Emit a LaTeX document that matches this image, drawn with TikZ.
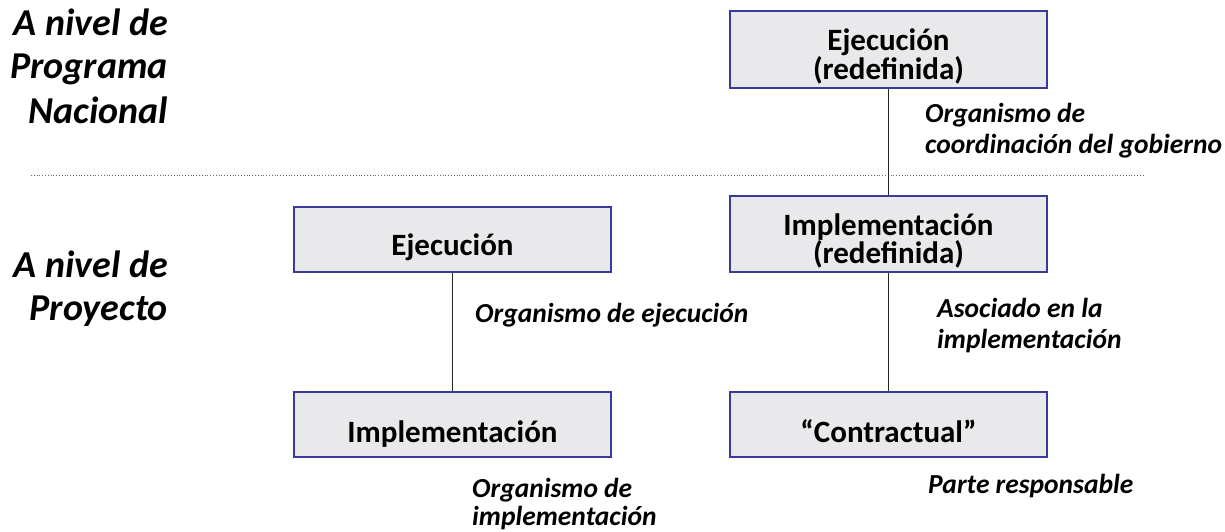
\documentclass[tikz,border=0pt]{standalone}
\usepackage{fontspec}
\setmainfont{Carlito}
\definecolor{boxfill}{HTML}{E9E9EC}
\definecolor{boxedge}{HTML}{3A3A9A}
\begin{document}
\begin{tikzpicture}[x=1pt,y=-1pt,
  box/.style={draw=boxedge,fill=boxfill,line width=1.6pt,minimum width=317pt,minimum height=65pt,inner sep=0pt},
  boxtext/.style={font=\fontsize{31}{33}\selectfont\bfseries,anchor=base,inner sep=0pt},
  lbl/.style={font=\fontsize{27.5}{31}\selectfont\bfseries\itshape,anchor=base west,inner sep=0pt},
  level/.style={font=\fontsize{38}{43}\selectfont\bfseries\itshape,anchor=base east,inner sep=0pt},
  conn/.style={line width=1.5pt,draw=black!85}]
\useasboundingbox (0,0) rectangle (1225,531);
% separator
\draw[dotted,line width=0.8pt,black!60] (31,175) -- (1145,175);
% boxes
\node[box,minimum height=77pt] (ejr) at (888.5,49.5) {};
\node[box,minimum height=76pt] (impr) at (888.5,234) {};
\node[box] (con) at (888.5,424.5) {};
\node[box] (ej) at (452.5,239.5) {};
\node[box] (imp) at (452.5,424.5) {};
% connectors
\draw[conn] (ejr.south) -- (impr.north);
\draw[conn] (impr.south) -- (con.north);
\draw[conn] (ej.south) -- (imp.north);
% box texts
\node[boxtext] (t1a) at (888.5,50) {Ejecución};
\node[boxtext] (t1b) at (888.5,79) {(redefinida)};
\node[boxtext] (t2a) at (888.5,235) {Implementación};
\node[boxtext] (t2b) at (888.5,263) {(redefinida)};
\node[boxtext] (t3) at (888.5,442) {“Contractual”};
\node[boxtext] (t4) at (452.5,255) {Ejecución};
\node[boxtext] (t5) at (452.5,442) {Implementación};
% labels
\node[lbl] (l1a) at (925,122) {Organismo de};
\node[lbl] (l1b) at (925,153) {coordinación del gobierno};
\node[lbl] (l2) at (475,322) {Organismo de ejecución};
\node[lbl] (l3a) at (937,317) {Asociado en la};
\node[lbl] (l3b) at (937,348) {implementación};
\node[lbl] (l4) at (928,493) {Parte responsable};
\node[lbl] (l5a) at (472,497) {Organismo de};
\node[lbl] (l5b) at (472,525) {implementación};
% level labels
\node[level] (n1) at (168,35) {A nivel de};
\node[level] (n2) at (168,78) {Programa};
\node[level] (n3) at (168,123) {Nacional};
\node[level] (n4) at (168,277) {A nivel de};
\node[level] (n5) at (168,320) {Proyecto};
\end{tikzpicture}
\end{document}
